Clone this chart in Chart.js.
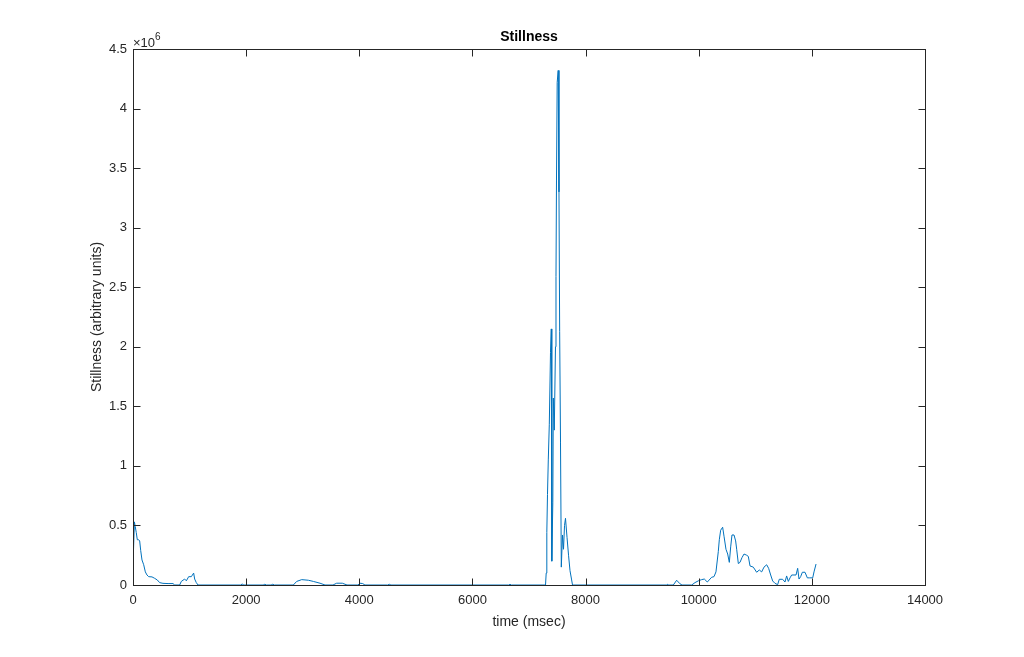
<!DOCTYPE html>
<html>
<head>
<meta charset="utf-8">
<script src="https://cdn.jsdelivr.net/npm/chart.js@4.4.1/dist/chart.umd.min.js"></script>
<style>
  html, body { margin: 0; padding: 0; background: #fff; }
</style>
</head>
<body>
<canvas id="stillness-chart" width="1024" height="657"></canvas>
<script>
// time axis (msec) and stillness values (in units of 10^6)
const timeMs = [
  5, 25, 40, 58, 76, 100, 118, 136, 159, 189, 218, 247, 277, 336, 383, 430, 471, 530, 620, 707, 737,
  825, 854, 913, 943, 984, 1031, 1072, 1090, 1119, 1149,
  1900, 1930, 1960, 2300, 2330, 2360, 2440, 2470, 2500,
  2834, 2893, 2982, 3100, 3188, 3306, 3394, 3535, 3600, 3700, 3783,
  3977, 4010, 4060, 4100, 4500, 4530, 4560, 6640, 6664, 6690,
  7292, 7304, 7315, 7327, 7341, 7359, 7380, 7394, 7403, 7421, 7430, 7447, 7468, 7477, 7486, 7498,
  7516, 7530, 7542, 7557, 7571, 7592, 7610, 7628, 7645, 7672, 7699, 7725, 7751, 7769,
  9440, 9450, 9470, 9551, 9610, 9669, 9705,
  9876, 9934, 9993, 10052, 10099, 10152, 10229, 10270, 10305, 10346, 10364, 10388, 10423, 10447,
  10482, 10512, 10541, 10565, 10588, 10624, 10653, 10671, 10700, 10730, 10765, 10801, 10848, 10877,
  10907, 10965, 11024, 11071, 11113, 11154, 11201, 11236, 11272, 11307, 11348, 11395, 11424, 11483,
  11525, 11554, 11584, 11614, 11643, 11720, 11749, 11773, 11802, 11832, 11879, 11920, 11956, 12015,
  12038, 12074
];
const stillnessE6 = [
  0.24, 0.53, 0.49, 0.44, 0.38, 0.38, 0.37, 0.29, 0.21, 0.17, 0.11, 0.084, 0.07, 0.068, 0.056, 0.042, 0.02, 0.014, 0.012, 0.012, 0,
  0, 0.03, 0.05, 0.035, 0.07, 0.07, 0.1, 0.05, 0.02, 0,
  0, 0.008, 0, 0, 0.006, 0, 0, 0.006, 0,
  0, 0.03, 0.045, 0.04, 0.03, 0.015, 0, 0, 0.015, 0.015, 0,
  0, 0.015, 0.012, 0, 0, 0.006, 0, 0, 0.006, 0,
  0, 0.1, 0.44, 0.76, 1.05, 1.35, 1.95, 2.15, 0.2, 0.69, 1.57, 1.3, 2.0, 2.59, 3.4, 4.22,
  4.32, 3.3, 2.13, 1.2, 0.15, 0.42, 0.3, 0.5, 0.56, 0.4, 0.25, 0.12, 0.05, 0,
  0, 0.006, 0, 0, 0.04, 0.01, 0,
  0, 0.02, 0.035, 0.045, 0.05, 0.025, 0.065, 0.07, 0.11, 0.28, 0.38, 0.46, 0.485, 0.41,
  0.30, 0.26, 0.19, 0.32, 0.42, 0.42, 0.37, 0.30, 0.18, 0.19, 0.23, 0.26, 0.25, 0.24,
  0.16, 0.15, 0.107, 0.126, 0.11, 0.15, 0.17, 0.14, 0.084, 0.034, 0.014, 0.003, 0.048, 0.048,
  0.025, 0.076, 0.03, 0.06, 0.084, 0.084, 0.14, 0.05, 0.07, 0.107, 0.107, 0.06, 0.06, 0.06,
  0.11, 0.176
];
const xTicks = [0, 2000, 4000, 6000, 8000, 10000, 12000, 14000];
const yTicks = [0, 0.5, 1, 1.5, 2, 2.5, 3, 3.5, 4, 4.5];

const AXIS_COLOR = '#262626';
const LINE_COLOR = '#0072BD';
const FONT = "'Liberation Sans', Arial, sans-serif";

const points = timeMs.map((t, i) => ({ x: t, y: stillnessE6[i] }));

// MATLAB-style box with inward ticks, title, labels and exponent
const matlabAxes = {
  id: 'matlabAxes',
  afterDraw(chart) {
    const { ctx, chartArea: a, scales: { x, y } } = chart;
    const L = Math.round(a.left) + 0.5, R = Math.round(a.right) + 0.5;
    const T = Math.round(a.top) + 0.5, B = Math.round(a.bottom) + 0.5;
    const tick = 7;
    ctx.save();
    ctx.strokeStyle = AXIS_COLOR;
    ctx.lineWidth = 1;
    ctx.strokeRect(L, T, R - L, B - T);
    ctx.beginPath();
    xTicks.forEach(v => {
      const px = Math.round(x.getPixelForValue(v)) + 0.5;
      ctx.moveTo(px, B); ctx.lineTo(px, B - tick);
      ctx.moveTo(px, T); ctx.lineTo(px, T + tick);
    });
    yTicks.forEach(v => {
      const py = Math.round(y.getPixelForValue(v)) + 0.5;
      ctx.moveTo(L, py); ctx.lineTo(L + tick, py);
      ctx.moveTo(R, py); ctx.lineTo(R - tick, py);
    });
    ctx.stroke();

    ctx.fillStyle = '#000';
    ctx.textAlign = 'center';
    ctx.textBaseline = 'alphabetic';
    ctx.font = 'bold 14px ' + FONT;
    ctx.fillText('Stillness', (a.left + a.right) / 2, 41);

    ctx.fillStyle = AXIS_COLOR;
    ctx.font = '14px ' + FONT;
    ctx.fillText('time (msec)', (a.left + a.right) / 2, 626);

    ctx.save();
    ctx.translate(101, (a.top + a.bottom) / 2);
    ctx.rotate(-Math.PI / 2);
    ctx.fillText('Stillness (arbitrary units)', 0, 0);
    ctx.restore();

    ctx.textAlign = 'left';
    ctx.font = '13px ' + FONT;
    ctx.fillText('\u00d710', 133, 47);
    ctx.font = '10px ' + FONT;
    ctx.fillText('6', 155, 40);
    ctx.restore();
  }
};

new Chart(document.getElementById('stillness-chart'), {
  type: 'line',
  data: {
    datasets: [{
      data: points,
      borderColor: LINE_COLOR,
      borderWidth: 1,
      pointRadius: 0,
      tension: 0,
      fill: false,
    }],
  },
  options: {
    animation: false,
    responsive: false,
    devicePixelRatio: 1,
    layout: { padding: { top: 49, right: 99, left: 0, bottom: 0 } },
    plugins: {
      legend: { display: false },
      tooltip: { enabled: false },
    },
    scales: {
      x: {
        type: 'linear',
        min: 0,
        max: 14000,
        afterBuildTicks: s => { s.ticks = xTicks.map(v => ({ value: v })); },
        afterFit: s => { s.height = 72; },
        grid: { display: false, drawTicks: false },
        border: { display: false },
        ticks: {
          color: AXIS_COLOR,
          font: { family: FONT, size: 13 },
          padding: 8,
          maxRotation: 0,
          autoSkip: false,
          callback: v => String(v),
        },
      },
      y: {
        type: 'linear',
        min: 0,
        max: 4.5,
        afterBuildTicks: s => { s.ticks = yTicks.map(v => ({ value: v })); },
        afterFit: s => { s.width = 133; },
        grid: { display: false, drawTicks: false },
        border: { display: false },
        ticks: {
          color: AXIS_COLOR,
          font: { family: FONT, size: 13 },
          padding: 6,
          autoSkip: false,
          callback: v => String(v),
        },
      },
    },
  },
  plugins: [matlabAxes],
});
</script>
</body>
</html>
